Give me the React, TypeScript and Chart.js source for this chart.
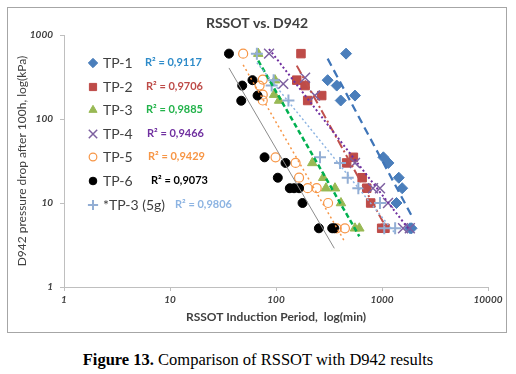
import React, { useEffect, useRef } from 'react';
import { Chart, registerables } from 'chart.js';
import { drawPoint } from 'chart.js/helpers';

Chart.register(...registerables);

// ---- data (RSSOT induction period [min] vs D942 pressure drop [kPa]) ----
const seriesNames = ['TP-1', 'TP-2', 'TP-3', 'TP-4', 'TP-5', 'TP-6', '*TP-3 (5g)'];
const r2Labels = ['R² = 0,9117', 'R² = 0,9706', 'R² = 0,9885', 'R² = 0,9466', 'R² = 0,9429', 'R² = 0,9073', 'R² = 0,9806'];

const tp1X = [458, 307, 374, 556, 408, 1030, 1150, 1440, 1550, 1370, 1840, 1900];
const tp1Y = [600, 290, 250, 190, 166, 35, 30, 20, 15, 10, 5, 5];

const tp2X = [172, 157, 188, 270, 199, 537, 464, 650, 718, 782, 993, 1067];
const tp2Y = [600, 290, 250, 190, 166, 35, 30, 20, 15, 10, 5, 5];

const tp3X = [68, 98, 96, 107, 220, 279, 296, 360, 410, 556, 611];
const tp3Y = [600, 290, 195, 166, 30, 20, 15, 15, 10, 5, 5];

const tp4X = [86, 117, 188, 233, 556, 822, 957, 1140, 1580, 1830];
const tp4Y = [600, 262, 310, 190, 30, 15, 15, 10, 5, 5];

const tp5X = [49, 70, 75, 75, 75, 99, 153, 165, 199, 242, 310, 374, 447];
const tp5Y = [600, 250, 295, 195, 166, 35, 30, 20, 15, 15, 10, 5, 5];

const tp6X = [36, 48, 60, 67, 47, 78, 123, 104, 135, 148, 165, 178, 254, 339, 355];
const tp6Y = [600, 250, 290, 190, 165, 35, 30, 20, 15, 15, 15, 10, 5, 5, 5];

const tp35X = [66, 91, 95, 131, 260, 402, 475, 598, 957, 1050, 1330];
const tp35Y = [600, 250, 290, 166, 35, 30, 20, 15, 10, 5, 5];

const xTickValues = [1, 10, 100, 1000, 10000];
const yTickValues = [1, 10, 100, 1000];

// ---- styles ----
const markerColors = ['#4A7EBB', '#BE4B48', '#98B954', '#7D60A0', '#F79646', '#000000', '#93AED4'];
const markerFill = ['#4A7EBB', '#BE4B48', '#98B954', 'rgba(0,0,0,0)', 'rgba(0,0,0,0)', '#000000', 'rgba(0,0,0,0)'];
const markerStyles = ['rectRot', 'rect', 'triangle', 'crossRot', 'circle', 'circle', 'cross'];
const markerRadius = [5.5, 6, 5.5, 7, 4.5, 4.5, 6];
const markerBorder = [1, 1, 1, 1.5, 1.2, 1, 2];
const lineColors = ['#3F75B8', '#C0504D', '#00B050', '#7030A0', '#F79646', '#8C8C8C', '#8DB4E2'];
const lineDash = [[8, 5], [9, 3, 2, 3], [5, 3], [2, 2.5], [2, 3], [], [2, 2.5]];
const lineWidths = [2.25, 2, 2.5, 2, 1.5, 1, 1.5];
const r2Colors = ['#2E8BC9', '#BE4B48', '#23B34B', '#7030A0', '#F79646', '#000000', '#8DB4E2'];
const r2X = [137, 138, 138, 139, 140, 143, 167];

const FONT = 'Lato, "Open Sans", sans-serif';

function powerFit(xs: number[], ys: number[]) {
  const n = xs.length;
  const lx = xs.map(Math.log10);
  const ly = ys.map(Math.log10);
  const mx = lx.reduce((a, b) => a + b, 0) / n;
  const my = ly.reduce((a, b) => a + b, 0) / n;
  let sxy = 0, sxx = 0;
  for (let i = 0; i < n; i++) {
    sxy += (lx[i] - mx) * (ly[i] - my);
    sxx += (lx[i] - mx) * (lx[i] - mx);
  }
  const b = sxy / sxx;
  const a = my - b * mx;
  const x0 = Math.min(...xs);
  const x1 = Math.max(...xs);
  return [
    { x: x0, y: Math.pow(10, a + b * Math.log10(x0)) },
    { x: x1, y: Math.pow(10, a + b * Math.log10(x1)) },
  ];
}

const overlayPlugin = {
  id: 'overlay',
  afterDraw(chart: any) {
    const ctx = chart.ctx;
    ctx.save();
    // title
    ctx.fillStyle = '#404040';
    ctx.font = `bold 14px ${FONT}`;
    ctx.textAlign = 'center';
    ctx.textBaseline = 'middle';
    ctx.fillText('RSSOT vs. D942', 249, 15);
    // legend
    const rowY = [55, 79, 102, 126, 149, 173, 197];
    for (let i = 0; i < seriesNames.length; i++) {
      const y = rowY[i];
      ctx.save();
      ctx.strokeStyle = markerColors[i];
      ctx.fillStyle = markerFill[i];
      ctx.lineWidth = markerBorder[i];
      drawPoint(ctx, { pointStyle: markerStyles[i] as any, radius: markerRadius[i] * 0.85, borderWidth: markerBorder[i], rotation: 0 } as any, 85, y);
      ctx.restore();
      ctx.fillStyle = '#404040';
      ctx.font = `14px ${FONT}`;
      ctx.textAlign = 'left';
      ctx.textBaseline = 'middle';
      ctx.fillText(seriesNames[i], 95, y);
      ctx.fillStyle = r2Colors[i];
      ctx.font = `bold 11px ${FONT}`;
      ctx.fillText(r2Labels[i], r2X[i], y - 1);
    }
    ctx.restore();
  },
};

export default function App() {
  const canvasRef = useRef<HTMLCanvasElement | null>(null);

  useEffect(() => {
    const xs = [tp1X, tp2X, tp3X, tp4X, tp5X, tp6X, tp35X];
    const ys = [tp1Y, tp2Y, tp3Y, tp4Y, tp5Y, tp6Y, tp35Y];
    const datasets: any[] = [];
    for (let i = 0; i < xs.length; i++) {
      datasets.push({
        type: 'scatter',
        label: seriesNames[i],
        data: xs[i].map((x, j) => ({ x, y: ys[i][j] })),
        pointStyle: markerStyles[i],
        pointRadius: markerRadius[i],
        pointBorderColor: markerColors[i],
        pointBackgroundColor: markerFill[i],
        pointBorderWidth: markerBorder[i],
        showLine: false,
        order: 20 - i,
      });
    }
    for (let i = 0; i < xs.length; i++) {
      datasets.push({
        type: 'line',
        label: seriesNames[i] + ' trend',
        data: powerFit(xs[i], ys[i]),
        borderColor: lineColors[i],
        borderDash: lineDash[i],
        borderWidth: lineWidths[i],
        pointRadius: 0,
        fill: false,
        order: 10 - i,
      });
    }

    const tickFont = { family: FONT, size: 10, style: 'italic' as const, weight: 'bold' as const };
    const chart = new Chart(canvasRef.current as HTMLCanvasElement, {
      type: 'scatter',
      data: { datasets },
      options: {
        animation: false,
        responsive: false,
        layout: { padding: { top: 27, right: 18, left: 0, bottom: 0 } },
        plugins: { legend: { display: false }, tooltip: { enabled: false }, title: { display: false } },
        scales: {
          x: {
            type: 'logarithmic',
            min: 1,
            max: 10000,
            afterBuildTicks: (s: any) => { s.ticks = xTickValues.map((v) => ({ value: v })); },
            afterFit: (s: any) => { s.height = 45; },
            ticks: { callback: (v: any) => String(v), font: tickFont, color: '#404040', padding: 3, maxRotation: 0, autoSkip: false },
            grid: { drawOnChartArea: false, drawTicks: true, tickLength: 4, color: '#BFBFBF' },
            border: { display: true, color: '#BFBFBF' },
            title: { display: true, text: 'RSSOT Induction Period,  log(min)', color: '#404040', font: { family: FONT, size: 12, weight: 'bold' }, padding: { top: 0, bottom: 8 } },
          },
          y: {
            type: 'logarithmic',
            min: 1,
            max: 1000,
            afterBuildTicks: (s: any) => { s.ticks = yTickValues.map((v) => ({ value: v })); },
            afterFit: (s: any) => { s.width = 56; },
            ticks: { callback: (v: any) => String(v), font: tickFont, color: '#404040', padding: 7 },
            grid: { drawOnChartArea: false, drawTicks: true, tickLength: 4, color: '#BFBFBF' },
            border: { display: true, color: '#BFBFBF' },
            title: { display: true, text: 'D942 pressure drop after 100h, log(kPa)', color: '#404040', font: { family: FONT, size: 12 }, padding: { top: 7, bottom: 0 } },
          },
        },
      },
      plugins: [overlayPlugin],
    } as any);
    return () => chart.destroy();
  }, []);

  return (
    <div style={{ position: 'absolute', left: 0, top: 0, width: 516, height: 374, background: '#fff', overflow: 'hidden' }}>
      <div style={{ position: 'absolute', left: 7, top: 7, width: 498, height: 324, border: '1px solid #A6A6A6' }}>
        <canvas ref={canvasRef} width={498} height={324} style={{ display: 'block', width: 498, height: 324 }} />
      </div>
      <div style={{ position: 'absolute', left: 0, top: 350, width: 516, textAlign: 'center', fontFamily: '"Liberation Serif", "Times New Roman", serif', fontSize: 16.5, color: '#000' }}>
        <b>Figure 13.</b> Comparison of RSSOT with D942 results
      </div>
    </div>
  );
}
